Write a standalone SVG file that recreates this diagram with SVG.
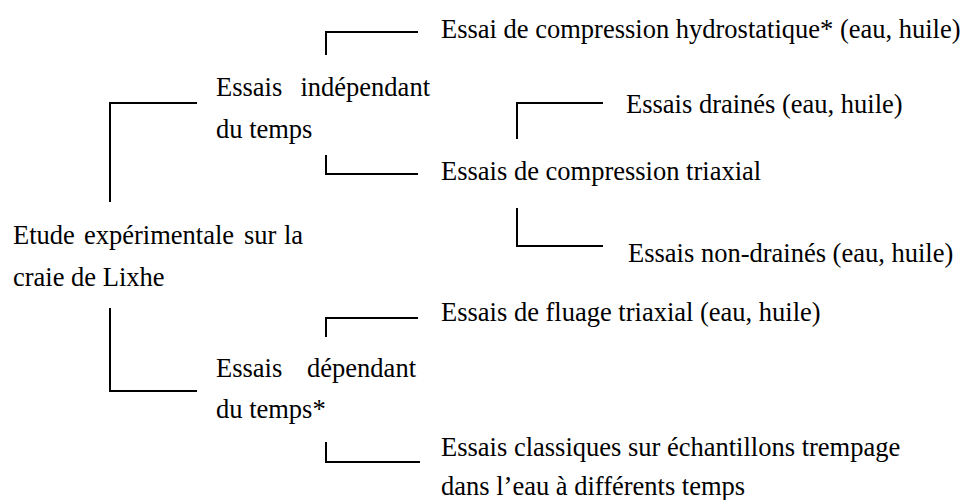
<svg xmlns="http://www.w3.org/2000/svg" width="966" height="500" viewBox="0 0 966 500">
<style>
text{font-family:"Liberation Serif","Times New Roman",serif;font-size:26.5px;fill:#000}
.c path{fill:none;stroke:#000;stroke-width:2}
</style>
<rect width="966" height="500" fill="#fff"/>
<g class="c" id="connectors">
<path d="M110,202V103H197"/>
<path d="M110,308V391H197"/>
<path d="M326,55V32H418"/>
<path d="M326,155V174H418"/>
<path d="M517,139V103H603"/>
<path d="M517,208V246H603"/>
<path d="M326,337V318H418"/>
<path d="M326,442V462H420"/>
</g>
<g id="root"><text x="13" y="244">Etude</text><text x="84" y="244">expérimentale</text><text x="244" y="244">sur</text><text x="303" y="244" text-anchor="end">la</text><text x="13" y="286">craie de Lixhe</text></g>
<g id="independant"><text x="216" y="96">Essais</text><text x="430" y="96" text-anchor="end">indépendant</text><text x="216" y="138">du temps</text></g>
<g id="dependant"><text x="216" y="377">Essais</text><text x="416" y="377" text-anchor="end">dépendant</text><text x="216" y="418">du temps*</text></g>
<g id="hydro"><text x="441" y="38">Essai de compression hydrostatique* (eau, huile)</text></g>
<g id="triaxial"><text x="441" y="180">Essais de compression triaxial</text></g>
<g id="draines"><text x="626" y="113">Essais drainés (eau, huile)</text></g>
<g id="nondraines"><text x="628" y="262">Essais non-drainés (eau, huile)</text></g>
<g id="fluage"><text x="441" y="321">Essais de fluage triaxial (eau, huile)</text></g>
<g id="classiques"><text x="441" y="456">Essais classiques sur échantillons trempage</text><text x="441" y="495">dans l’eau à différents temps</text></g>
</svg>
